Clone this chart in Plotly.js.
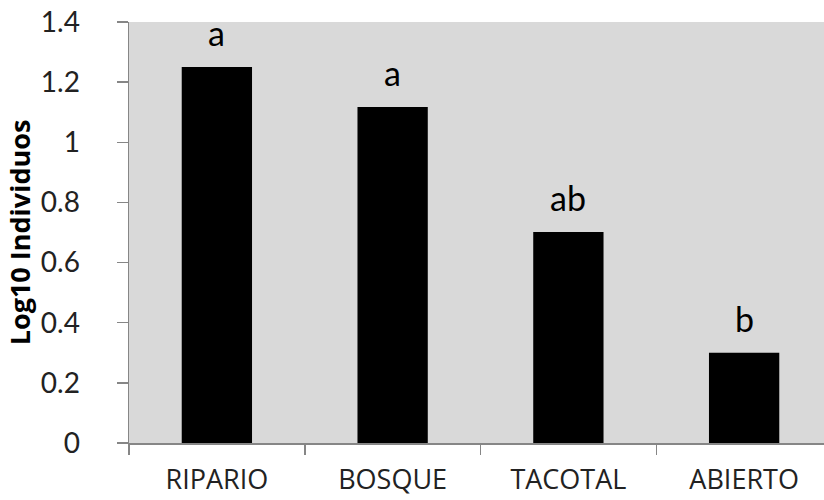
<!DOCTYPE html>
<html>
<head>
<meta charset="utf-8">
<script src="https://cdn.plot.ly/plotly-3.0.1.min.js"></script>
<style>html,body{margin:0;padding:0;overflow:hidden;background:#fff}#chart{width:840px;height:500px}</style>
</head>
<body>
<div id="chart"></div>
<script>
var categories = ["RIPARIO", "BOSQUE", "TACOTAL", "ABIERTO"];
var values = [1.25, 1.117, 0.702, 0.300];
var letters = ["a", "a", "ab", "b"];
var yTicks = [0, 0.2, 0.4, 0.6, 0.8, 1, 1.2, 1.4];
var yTickLabels = ["0", "0.2", "0.4", "0.6", "0.8", "1", "1.2", "1.4"];

var FONT = "Lato, 'Liberation Sans', sans-serif";
var FONT2 = "'Open Sans', 'Liberation Sans', sans-serif";
var trace = {
  type: "bar",
  x: categories,
  y: values,
  marker: {color: "#000000", line: {width: 0}},
  hoverinfo: "none"
};
var annotations = categories.map(function (c, i) {
  return {
    x: c, y: values[i], xref: "x", yref: "y",
    text: letters[i], showarrow: false,
    yanchor: "bottom", yshift: 12,
    font: {family: FONT, size: 34, color: "#000"}
  };
});
var layout = {
  width: 840, height: 500,
  margin: {l: 129, r: 8, t: 22, b: 57, pad: 0},
  paper_bgcolor: "#ffffff",
  plot_bgcolor: "#d9d9d9",
  bargap: 0.6,
  showlegend: false,
  xaxis: {
    type: "category",
    tickson: "boundaries",
    ticks: "outside", ticklen: 10, tickcolor: "#868686", tickwidth: 1.5,
    showline: true, linecolor: "#868686", linewidth: 1.5,
    showgrid: false, zeroline: false,
    tickfont: {family: FONT2, size: 27, color: "#222"},
    ticklabelstandoff: 12
  },
  yaxis: {
    range: [0, 1.4],
    tickvals: yTicks, ticktext: yTickLabels,
    ticks: "outside", ticklen: 11, tickcolor: "#868686", tickwidth: 1.5,
    showline: true, linecolor: "#868686", linewidth: 1.5,
    showgrid: false, zeroline: false,
    tickfont: {family: FONT, size: 28, color: "#222"},
    ticklabelstandoff: 31,
    title: {text: "Log10 Individuos", font: {family: FONT2, size: 27, color: "#000", weight: "bold"}, standoff: 2}
  },
  annotations: annotations
};
Plotly.newPlot("chart", [trace], layout, {displayModeBar: false, staticPlot: true});
</script>
</body>
</html>
